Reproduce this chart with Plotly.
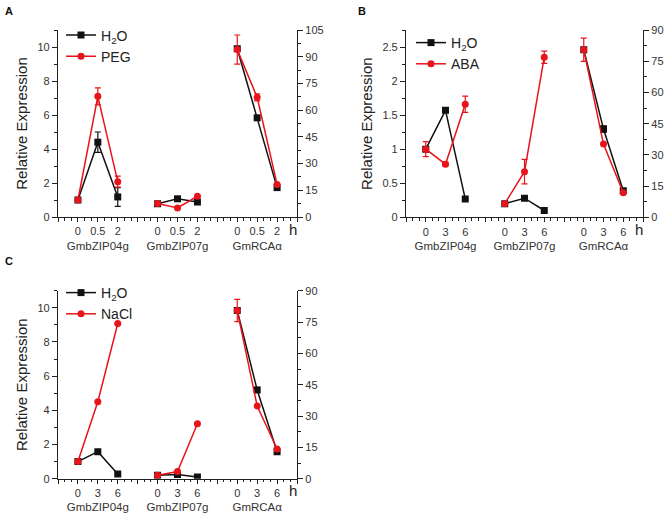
import plotly.graph_objects as go

# ---------------- data ----------------
GENES = ["GmbZIP04g", "GmbZIP07g", "GmRCAα"]
TIMES_A = ["0", "0.5", "2"]
TIMES_BC = ["0", "3", "6"]

A_H2O = [1.0, 4.4, 1.18, 0.78, 1.07, 0.88, 94.5, 55.7, 16.5]
A_H2O_ERR = [0, 0.6, 0.55, 0, 0, 0, 0, 0, 0]
A_PEG = [1.0, 7.1, 2.08, 0.8, 0.53, 1.22, 94.0, 67.2, 18.3]
A_PEG_ERR = [0, 0.5, 0.32, 0, 0, 0, 8.2, 2.0, 0]

B_H2O = [1.0, 1.57, 0.27, 0.2, 0.28, 0.1, 80.5, 42.4, 12.8]
B_H2O_ERR = [0, 0.03, 0, 0, 0, 0, 0, 1.5, 0]
B_ABA = [1.0, 0.78, 1.66, 0.2, 0.67, 2.35, 80.5, 35.2, 11.8]
B_ABA_ERR = [0.11, 0.03, 0.12, 0, 0.18, 0.09, 5.6, 0, 0]

C_H2O = [1.0, 1.58, 0.27, 0.2, 0.25, 0.1, 80.5, 42.5, 12.9]
C_H2O_ERR = [0, 0, 0, 0, 0, 0, 0, 1.2, 0]
C_NACL = [1.0, 4.5, 9.08, 0.2, 0.42, 3.22, 80.5, 34.8, 14.2]
C_NACL_ERR = [0, 0, 0, 0, 0, 0, 5.3, 0, 0]

# ---------------- style ----------------
W, H = 666, 513
BLACK = "#111111"
RED = "#E8141B"
FONT = "Liberation Sans, Arial, sans-serif"


def px(x):
    return x / W


def py(y):
    return 1 - y / H


# layout positions of the 9 points: three groups of three, gap of one
POS = [4 * g + i + 1 for g in range(3) for i in range(3)]

fig = go.Figure()

panels = [
    ("A", A_H2O, A_H2O_ERR, A_PEG, A_PEG_ERR, "PEG", TIMES_A, "x", "y", "y2", "legend", 11, 2, 105),
    ("B", B_H2O, B_H2O_ERR, B_ABA, B_ABA_ERR, "ABA", TIMES_BC, "x2", "y3", "y4", "legend2", 2.75, 0.5, 90),
    ("C", C_H2O, C_H2O_ERR, C_NACL, C_NACL_ERR, "NaCl", TIMES_BC, "x3", "y5", "y6", "legend3", 11, 2, 90),
]


def seg(vals, idx):
    xs, ys = [], []
    for k, gi in enumerate(idx):
        if k:
            xs.append(None)
            ys.append(None)
        xs += POS[3 * gi:3 * gi + 3]
        ys += vals[3 * gi:3 * gi + 3]
    return xs, ys


def errseg(errs, idx):
    out = []
    for k, gi in enumerate(idx):
        if k:
            out.append(0)
        out += errs[3 * gi:3 * gi + 3]
    return out


for (name, h2o, h2oe, trt, trte, tname, times, xa, yl, yr, leg, lmax, ldt, rmax) in panels:
    for vals, errs, color, sym, label in [
        (h2o, h2oe, BLACK, "square", "H<sub>2</sub>O"),
        (trt, trte, RED, "circle", tname),
    ]:
        xs, ys = seg(vals, [0, 1])
        fig.add_trace(go.Scatter(
            x=xs, y=ys, xaxis=xa, yaxis=yl, mode="lines+markers",
            line=dict(color=color, width=1.5),
            marker=dict(color=color, symbol=sym, size=7),
            error_y=dict(type="data", array=errseg(errs, [0, 1]), color=color,
                         thickness=1.2, width=3, visible=True),
            name=label, legend=leg, showlegend=True, connectgaps=False,
        ))
        xs2, ys2 = seg(vals, [2])
        fig.add_trace(go.Scatter(
            x=xs2, y=ys2, xaxis=xa, yaxis=yr, mode="lines+markers",
            line=dict(color=color, width=1.5),
            marker=dict(color=color, symbol=sym, size=7),
            error_y=dict(type="data", array=errseg(errs, [2]), color=color,
                         thickness=1.2, width=3, visible=True),
            name=label, legend=leg, showlegend=False,
        ))

# ---------------- axes ----------------
geom = {
    "A": dict(x0=58, x1=297, y0=30, y1=217, lx=61, ly=19.5, tag=(3, 3)),
    "B": dict(x0=406, x1=643, y0=30, y1=217.3, lx=411, ly=27, tag=(356, 3)),
    "C": dict(x0=58, x1=297, y0=290.7, y1=478.7, lx=61, ly=277, tag=(3, 253)),
}

axis_common = dict(showline=True, linecolor="#222", linewidth=1.2, ticks="outside",
                   tickcolor="#222", tickwidth=1.2, showgrid=False, zeroline=False,
                   automargin=False,
                   tickfont=dict(family=FONT, size=11, color="#333"))

xnames = ["xaxis", "xaxis2", "xaxis3"]
ylnames = ["yaxis", "yaxis3", "yaxis5"]
yrnames = ["yaxis2", "yaxis4", "yaxis6"]

for i, (name, h2o, h2oe, trt, trte, tname, times, xa, yl, yr, leg, lmax, ldt, rmax) in enumerate(panels):
    g = geom[name]
    xdom = [px(g["x0"]), px(g["x1"])]
    ydom = [py(g["y1"]), py(g["y0"])]
    tickvals = list(range(0, 13))
    ticktext = []
    for v in tickvals:
        if v in POS:
            k = POS.index(v)
            txt = times[k % 3]
            if k % 3 == 1:
                # the gene name sits under the middle time point of its group
                txt += "<br><span style='font-size:11.5px'>%s</span>" % GENES[k // 3]
            ticktext.append(txt)
        else:
            ticktext.append("")
    fig.update_layout(**{
        xnames[i]: dict(domain=xdom, anchor=yl, range=[0, 12], tickmode="array",
                        tickvals=tickvals, ticktext=ticktext, ticklen=4, tickangle=0,
                        minor=dict(tickmode="linear", tick0=0, dtick=1 / 3, ticklen=2.5,
                                   tickcolor="#222", tickwidth=1),
                        **axis_common),
        ylnames[i]: dict(domain=ydom, anchor=xa, range=[0, lmax], dtick=ldt, tick0=0,
                         ticklen=5, minor=dict(dtick=ldt / 2, ticklen=3, tickcolor="#222",
                                               tickwidth=1, ticks="outside"),
                         title=dict(text="Relative Expression",
                                    font=dict(family=FONT, size=15, color="#222"),
                                    standoff=6),
                         **axis_common),
        yrnames[i]: dict(domain=ydom, anchor=xa, overlaying=yl, side="right",
                         range=[0, rmax], dtick=15, tick0=0, ticklen=5,
                         minor=dict(dtick=7.5, ticklen=3, tickcolor="#222", tickwidth=1,
                                    ticks="outside"),
                         **axis_common),
    })
    fig.update_layout(**{leg: dict(x=px(g["lx"]), y=py(g["ly"]), xanchor="left", yanchor="top",
                                   bgcolor="rgba(0,0,0,0)", borderwidth=0,
                                   font=dict(family=FONT, size=14, color="#222"),
                                   itemwidth=30, tracegroupgap=0)})
    fig.add_annotation(x=11.5, xref=xa, y=py(g["y1"] + 12), yref="paper", text="h",
                       showarrow=False, xanchor="left", yanchor="middle",
                       font=dict(family=FONT, size=15, color="#222"))
    fig.add_annotation(x=px(g["tag"][0]), y=py(g["tag"][1]), xref="paper", yref="paper",
                       text="<b>%s</b>" % name, showarrow=False, xanchor="left", yanchor="top",
                       font=dict(family=FONT, size=11, color="#111"))

fig.update_layout(width=W, height=H, margin=dict(l=0, r=0, t=0, b=0, autoexpand=False),
                  paper_bgcolor="white", plot_bgcolor="white", showlegend=True,
                  font=dict(family=FONT))

fig.write_html("out.html", config={"displayModeBar": False},
               post_script="document.body.style.margin='0px';")
